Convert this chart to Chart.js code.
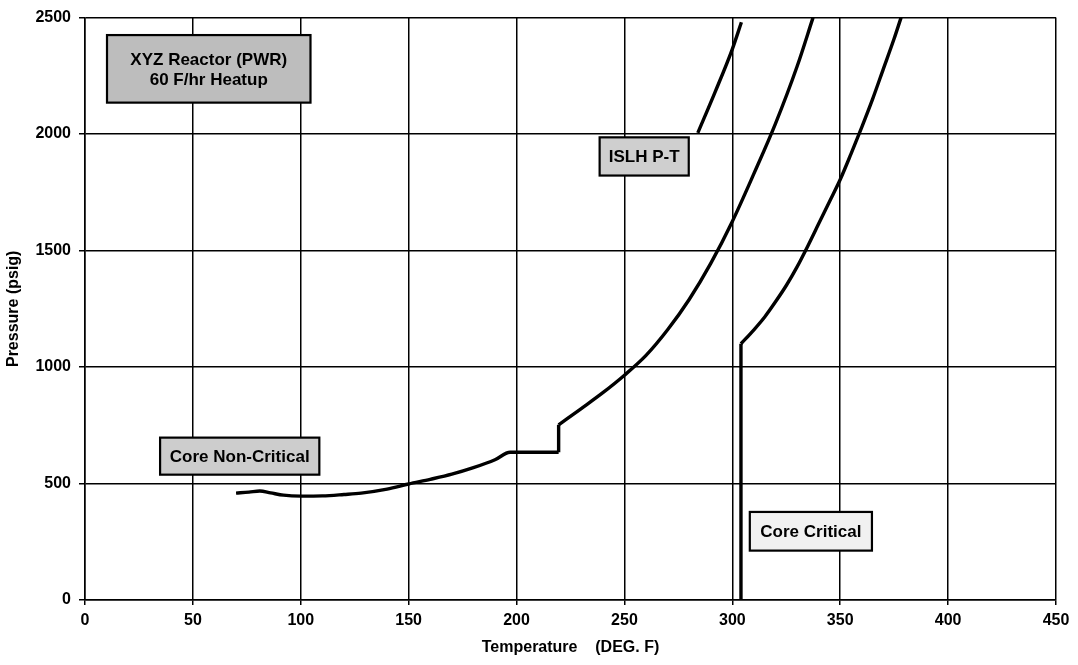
<!DOCTYPE html>
<html><head><meta charset="utf-8">
<script src="https://cdn.jsdelivr.net/npm/chart.js@4.4.1/dist/chart.umd.min.js"></script>
<style>html,body{margin:0;padding:0;background:#fff;}</style>
</head><body>
<canvas id="c" width="1078" height="665"></canvas>
<script>
// ---- Data ----
const xTicks = [0, 50, 100, 150, 200, 250, 300, 350, 400, 450];
const yTicks = [0, 500, 1000, 1500, 2000, 2500];

// Core Non-Critical P-T limit (with step at ~220 F)
const nonCritTemp = [70, 76, 81, 86, 92, 100, 110, 120, 128, 140, 150, 160, 170, 180, 190, 197, 219.5, 219.5, 230, 240, 250, 260, 270, 280, 290, 300, 310, 320, 330, 337.4];
const nonCritPres = [459, 463, 468, 460, 450, 446, 447, 453, 459, 476, 498, 518, 540, 568, 602, 634, 634, 752, 822, 890, 965, 1050, 1160, 1290, 1445, 1625, 1830, 2045, 2290, 2500];

// ISLH P-T segment
const islhTemp = [284, 292, 300, 304.2];
const islhPres = [2005, 2180, 2365, 2480];

// Core Critical limit
const critTemp = [304, 304, 310, 315, 320, 325, 330, 335, 340, 345, 350, 355, 360, 365, 370, 375, 378.2];
const critPres = [0, 1100, 1160, 1215, 1280, 1350, 1430, 1520, 1615, 1710, 1805, 1915, 2030, 2150, 2280, 2410, 2500];

// split a curve into runs: vertical steps (same temperature) and smooth parts
function runs(xs, ys) {
  const out = [];
  let cur = [{ x: xs[0], y: ys[0] }];
  for (let i = 1; i < xs.length; i++) {
    const p = { x: xs[i], y: ys[i] };
    if (xs[i] === xs[i - 1]) {
      if (cur.length > 1) out.push({ pts: cur, vertical: false });
      out.push({ pts: [cur[cur.length - 1], p], vertical: true });
      cur = [p];
    } else {
      cur.push(p);
    }
  }
  if (cur.length > 1) out.push({ pts: cur, vertical: false });
  return out;
}

// ---- Annotation labels (anchored in data units) ----
const notes = [
  { lines: ['XYZ Reactor (PWR)', '60 F/hr Heatup'], t0: 10.2, t1: 104.5, p0: 2425, p1: 2135, fill: '#bdbdbd' },
  { lines: ['Core Non-Critical'], t0: 34.8, t1: 108.6, p0: 697, p1: 538, fill: '#cdcdcd' },
  { lines: ['ISLH P-T'], t0: 238.5, t1: 279.8, p0: 1986, p1: 1822, fill: '#cfcfcf' },
  { lines: ['Core Critical'], t0: 308.1, t1: 364.7, p0: 378, p1: 212, fill: '#f1f1f1' }
];

const FONT = "'Liberation Sans', Arial, sans-serif";

const notesPlugin = {
  id: 'notes',
  afterDatasetsDraw(chart) {
    const ctx = chart.ctx, xs = chart.scales.x, ys = chart.scales.y;
    ctx.save();
    notes.forEach(n => {
      const x0 = xs.getPixelForValue(n.t0), x1 = xs.getPixelForValue(n.t1);
      const y0 = ys.getPixelForValue(n.p0), y1 = ys.getPixelForValue(n.p1);
      ctx.fillStyle = n.fill;
      ctx.fillRect(x0, y0, x1 - x0, y1 - y0);
      ctx.lineWidth = 2.2;
      ctx.strokeStyle = '#000';
      ctx.strokeRect(x0, y0, x1 - x0, y1 - y0);
      ctx.fillStyle = '#000';
      ctx.font = 'bold 17px ' + FONT;
      ctx.textAlign = 'center';
      ctx.textBaseline = 'middle';
      const cx = (x0 + x1) / 2, cy = (y0 + y1) / 2;
      const lh = 20;
      const start = cy - (n.lines.length - 1) * lh / 2;
      n.lines.forEach((s, i) => ctx.fillText(s, cx, start + i * lh + 1));
    });
    ctx.restore();
  }
};

function makeSets(label, xs, ys) {
  return runs(xs, ys).map(r => ({
    label: label,
    data: r.pts,
    borderColor: '#000', borderWidth: 3.4, pointRadius: 0, showLine: true, fill: false,
    borderJoinStyle: 'round', borderCapStyle: 'butt',
    cubicInterpolationMode: r.vertical ? 'default' : 'monotone',
    tension: r.vertical ? 0 : 0.4
  }));
}

const plain = v => String(v);

new Chart(document.getElementById('c'), {
  type: 'scatter',
  data: {
    datasets: [].concat(
      makeSets('Core Non-Critical', nonCritTemp, nonCritPres),
      makeSets('ISLH P-T', islhTemp, islhPres),
      makeSets('Core Critical', critTemp, critPres)
    )
  },
  options: {
    responsive: false,
    devicePixelRatio: 1,
    animation: false,
    layout: { padding: { left: 0, top: 13, right: 22, bottom: 0 } },
    plugins: { legend: { display: false }, tooltip: { enabled: false } },
    scales: {
      x: {
        type: 'linear', min: 0, max: 450,
        afterBuildTicks: s => { s.ticks = xTicks.map(v => ({ value: v })); },
        afterFit: s => { s.height = 65; },
        grid: { color: '#000', lineWidth: 1.5, tickLength: 5, drawTicks: true },
        border: { color: '#000', width: 1.5 },
        ticks: { color: '#000', font: { family: FONT, size: 16, weight: 'bold' }, padding: 6, maxRotation: 0, callback: plain },
        title: { display: true, text: 'Temperature    (DEG. F)', color: '#000', font: { family: FONT, size: 16, weight: 'bold' }, padding: { top: 4, bottom: 8 } }
      },
      y: {
        type: 'linear', min: 0, max: 2500,
        afterBuildTicks: s => { s.ticks = yTicks.map(v => ({ value: v })); },
        afterFit: s => { s.width = 85; },
        grid: { color: '#000', lineWidth: 1.5, tickLength: 6, drawTicks: true },
        border: { color: '#000', width: 1.5 },
        ticks: { color: '#000', font: { family: FONT, size: 16, weight: 'bold' }, padding: 8, callback: plain },
        title: { display: true, text: 'Pressure (psig)', color: '#000', font: { family: FONT, size: 16, weight: 'bold' }, padding: { top: 4, bottom: 4 } }
      }
    }
  },
  plugins: [notesPlugin]
});
</script>
</body></html>
